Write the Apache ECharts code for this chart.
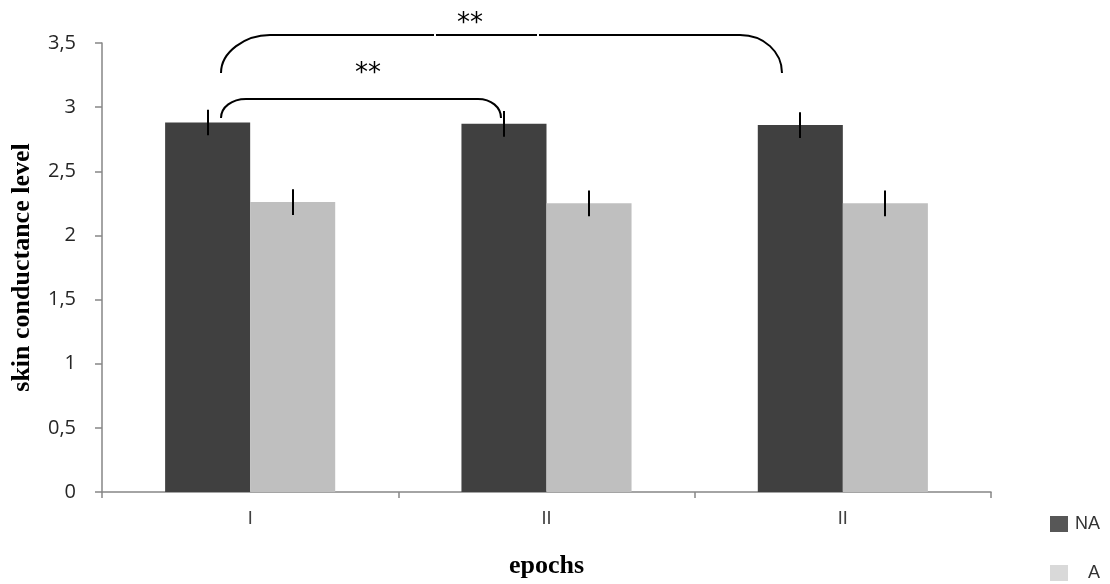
<!DOCTYPE html>
<html>
<head>
<meta charset="utf-8">
<script src="https://cdn.jsdelivr.net/npm/echarts@6/dist/echarts.min.js"></script>
<style>
html,body{margin:0;padding:0;background:#fff;}
#chart{width:1110px;height:584px;}
</style>
</head>
<body>
<div id="chart"></div>
<script>
// epochs / groups
var epochs = ['I', 'II', 'II'];
var seriesNames = ['NA', 'A'];
var valuesNA = [2.88, 2.87, 2.86];
var valuesA = [2.26, 2.25, 2.25];
var errNA = [0.1, 0.1, 0.1];
var errA = [0.1, 0.1, 0.1];

var barRatio = 0.287; // share of a category taken by one bar

function errData(vals, errs){
	var out = [];
	for(var i=0;i<vals.length;i++){
		out.push([i, vals[i], errs[i]]);
	}
	return out;
}

function errRender(side){
	return function(params, api){
		var idx = api.value(0);
		var v = api.value(1);
		var e = api.value(2);
		var w = api.size([1, 0])[0];
		var c = api.coord([idx, v]);
		var x = Math.round(c[0] + side * w * barRatio / 2);
		var top = api.coord([idx, v + e])[1];
		var bot = api.coord([idx, v - e])[1];
		return {
			type: 'line',
			shape: {x1: x, y1: top, x2: x, y2: bot},
			style: {stroke: '#000', lineWidth: 2}
		};
	};
}

// bracket annotation: rounded ends + straight top
var bStyle = {stroke: '#000', lineWidth: 2, fill: null};
function curve(x1, y1, c1x, c1y, c2x, c2y, x2, y2){
	return {type: 'bezierCurve', shape: {x1: x1, y1: y1, cpx1: c1x, cpy1: c1y, cpx2: c2x, cpy2: c2y, x2: x2, y2: y2}, style: bStyle};
}
function seg(x1, y1, x2, y2){
	return {type: 'line', shape: {x1: x1, y1: y1, x2: x2, y2: y2}, style: bStyle};
}
function stars(x, y){
	return {type: 'text', x: x, y: y, style: {text: '**', fontFamily: 'DejaVu Sans', fontSize: 26, fill: '#000', align: 'center', verticalAlign: 'middle'}};
}

var chart = echarts.init(document.getElementById('chart'));

var option = {
	backgroundColor: '#ffffff',
	animation: false,
	grid: {left: 102, right: 119, top: 43, bottom: 92, outerBoundsMode: 'none'},
	legend: {
		orient: 'vertical',
		left: 1050,
		top: 515,
		padding: 0,
		itemWidth: 18,
		itemHeight: 16,
		itemGap: 31,
		icon: 'rect',
		data: [
			{name: 'NA', itemStyle: {color: '#575757'}},
			{name: 'A', itemStyle: {color: '#d9d9d9'}}
		],
		formatter: '{r|{name}}',
		textStyle: {
			fontFamily: 'Liberation Sans',
			fontSize: 18,
			color: '#333',
			rich: {r: {width: 27, align: 'right', fontSize: 18, fontFamily: 'Liberation Sans', color: '#333'}}
		}
	},
	xAxis: {
		type: 'category',
		data: epochs,
		name: 'epochs',
		nameLocation: 'middle',
		nameGap: 61,
		nameTextStyle: {fontFamily: 'Liberation Serif', fontWeight: 'bold', fontSize: 26, color: '#000'},
		axisLine: {lineStyle: {color: '#868686', width: 1.5}},
		axisTick: {show: true, length: 6, lineStyle: {color: '#868686', width: 1.5}},
		axisLabel: {margin: 18, fontFamily: 'Liberation Sans', fontSize: 18, color: '#404040'}
	},
	yAxis: {
		type: 'value',
		min: 0,
		max: 3.5,
		interval: 0.5,
		name: 'skin conductance level',
		nameLocation: 'middle',
		nameGap: 67,
		nameRotate: 90,
		nameTextStyle: {fontFamily: 'Liberation Serif', fontWeight: 'bold', fontSize: 26, color: '#000'},
		splitLine: {show: false},
		axisLine: {show: true, lineStyle: {color: '#868686', width: 1.5}},
		axisTick: {show: true, length: 7, lineStyle: {color: '#868686', width: 1.5}},
		axisLabel: {
			margin: 26,
			fontFamily: 'Open Sans',
			fontSize: 20,
			color: '#262626',
			formatter: function(v){ return String(v).replace('.', ','); }
		}
	},
	series: [
		{
			name: 'NA',
			type: 'bar',
			data: valuesNA,
			barWidth: (barRatio * 100) + '%',
			barGap: '0%',
			itemStyle: {color: '#404040'}
		},
		{
			name: 'A',
			type: 'bar',
			data: valuesA,
			barWidth: (barRatio * 100) + '%',
			barGap: '0%',
			itemStyle: {color: '#bfbfbf'}
		},
		{
			name: 'errNA',
			type: 'custom',
			renderItem: errRender(-1),
			data: errData(valuesNA, errNA),
			z: 5
		},
		{
			name: 'errA',
			type: 'custom',
			renderItem: errRender(1),
			data: errData(valuesA, errA),
			z: 5
		}
	],
	graphic: [
		// outer bracket
		curve(221, 73, 221, 52, 245, 35, 270, 35),
		seg(270, 35, 434, 35),
		seg(436, 35, 537, 35),
		seg(539, 35, 740, 35),
		curve(740, 35, 764, 35, 782, 52, 782, 73),
		stars(470, 24),
		// inner bracket
		curve(221, 118, 221, 107, 232, 99, 246, 99),
		seg(246, 99, 478, 99),
		curve(478, 99, 491, 99, 501, 107, 501, 118),
		stars(368, 74)
	]
};

chart.setOption(option);
</script>
</body>
</html>
